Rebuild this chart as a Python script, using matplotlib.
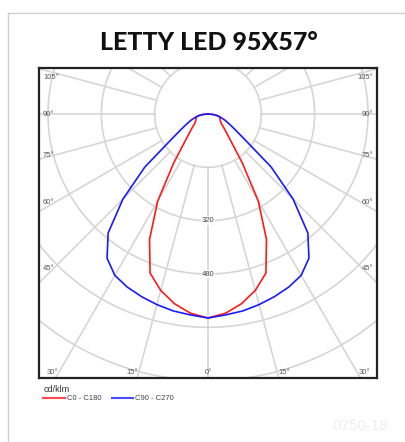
import numpy as np
import matplotlib.pyplot as plt
from matplotlib.lines import Line2D

# luminous intensity (cd/klm), every 5 deg from nadir
angles = [0, 5, 10, 15, 20, 25, 30, 35, 40, 45, 50, 55, 60, 65, 70, 75, 80, 85, 90]
c0_c180 = [612, 600, 578, 548, 508, 415, 302, 180, 108, 77, 60, 48, 43, 40, 38, 37, 30, 15, 0]
c90_c270 = [612, 605, 600, 592, 583, 573, 559, 528, 466, 361, 247, 137, 94, 70, 54, 40, 28, 14, 0]

rings = [160, 320, 480, 640, 800, 960]
ring_labels = [320, 480]
side_angles = [105, 90, 75, 60, 45]
bottom_angles = [30, 15, 0, 15, 30]

W, H = 405, 442
fig = plt.figure(figsize=(W / 100, H / 100), dpi=100)


def fx(px):
    return px / W


def fy(py):
    return 1 - py / H


# card frame
fig.add_artist(Line2D([fx(8), fx(8)], [fy(13), 0], color='#d0d0d0', lw=1))
fig.add_artist(Line2D([fx(8), 1], [fy(13), fy(13)], color='#d0d0d0', lw=1))

fig.text(fx(209), fy(42), 'LETTY LED 95X57°', ha='center', va='center',
         fontsize=18, fontweight='black', family='Lato', color='#111111')

# polar diagram drawn on a plain axes, 3 cd/klm per pixel
ax = fig.add_axes([fx(39), fy(378), (377 - 39) / W, (378 - 68) / H])
ax.set_xlim(-507, 507)
ax.set_ylim(-792, 138)
ax.set_xticks([])
ax.set_yticks([])
for s in ax.spines.values():
    s.set_linewidth(1.6)
    s.set_color('#222222')

grid_c = '#d6d6d6'
t = np.linspace(0, 2 * np.pi, 500)
for r in rings:
    ax.plot(r * np.sin(t), -r * np.cos(t), color=grid_c, lw=1.2, zorder=1)
for a in range(0, 360, 15):
    th = np.radians(a)
    ax.plot([160 * np.sin(th), 2000 * np.sin(th)],
            [-160 * np.cos(th), -2000 * np.cos(th)], color=grid_c, lw=1.2, zorder=1)

for v in ring_labels:
    ax.text(0, -v, str(v), ha='center', va='center', fontsize=5.5, color='#444444',
            family='Liberation Sans', zorder=2,
            bbox=dict(facecolor='white', edgecolor='none', pad=0.6))

lab_kw = dict(fontsize=5.5, color='#555555', family='Liberation Sans', va='center', zorder=2)
# side labels: y taken where the spoke crosses x = +-154 px
for a in side_angles:
    th = np.radians(a)
    y = -462 / np.tan(th)
    y = min(y, 110)
    ax.text(-507 + 12, y, f'{a}°', ha='left', **lab_kw)
    ax.text(507 - 12, y, f'{a}°', ha='right', **lab_kw)

# bottom labels
yb = -774
for i, a in enumerate(bottom_angles):
    xl = 774 * np.tan(np.radians(a))
    side = -1 if i < 2 else 1
    if a == 0:
        ax.text(0, yb, '0°', ha='center', **lab_kw)
    else:
        ax.text(side * (xl + 21), yb, f'{a}°', ha='center', **lab_kw)


def curve(vals):
    ang = np.radians(np.array([-a for a in angles[::-1]] + angles[1:]))
    r = np.array(vals[::-1] + vals[1:])
    return r * np.sin(ang), -r * np.cos(ang)


xr, yr = curve(c0_c180)
xb, yb2 = curve(c90_c270)
ax.plot(xr, yr, color='#ff1a1a', lw=1.2, zorder=3)
ax.plot(xb, yb2, color='#1a1aff', lw=1.2, zorder=4)

# legend under the box
fig.text(fx(44), fy(389), 'cd/klm', fontsize=6.5, color='#333333',
         family='Liberation Sans', va='center', ha='left')
fig.add_artist(Line2D([fx(43), fx(65)], [fy(398), fy(398)], color='#ff4a4a', lw=1.5))
fig.text(fx(67), fy(398), 'C0 - C180', fontsize=5.5, color='#444444',
         family='Liberation Sans', va='center', ha='left')
fig.add_artist(Line2D([fx(112), fx(133)], [fy(398), fy(398)], color='#4a4aff', lw=1.5))
fig.text(fx(135), fy(398), 'C90 - C270', fontsize=5.5, color='#444444',
         family='Liberation Sans', va='center', ha='left')

fig.text(fx(360), fy(426), '0750-18', fontsize=11, color='#eeeeee',
         family='Liberation Sans', va='center', ha='center')

fig.savefig('out.png', dpi=100)
